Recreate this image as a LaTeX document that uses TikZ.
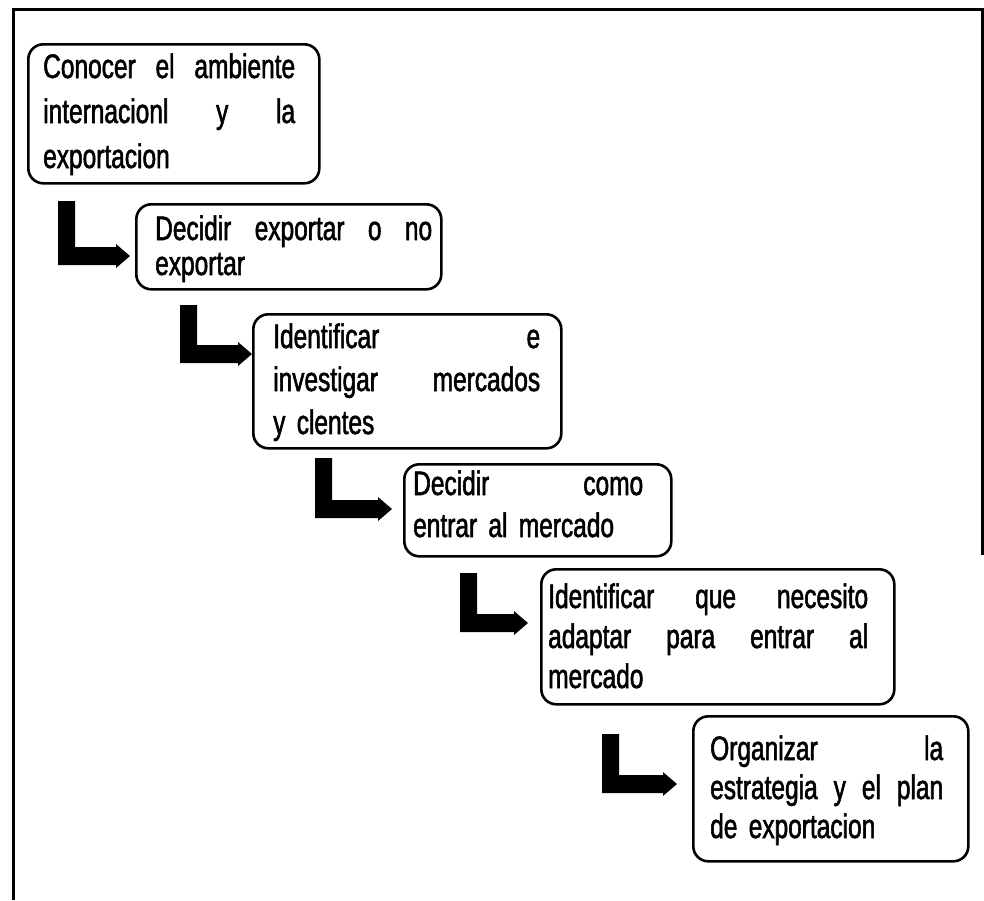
\documentclass[tikz,border=0pt]{standalone}
\usepackage{fontspec}
\setmainfont[FakeStretch=0.72,FakeBold=1.6,WordSpace=1.7]{Liberation Sans}
% a line spread over the whole text width
\newcommand\jline[1]{\leavevmode\hbox to \linewidth{#1}}
\begin{document}
\begin{tikzpicture}[x=1pt,y=-1pt,
  stepbox/.style={draw,line width=2.6pt,rounded corners=15pt,anchor=north west,
    inner sep=0pt,minimum width=#1},
  steptext/.style={anchor=base west,inner sep=0pt,align=left,text width=#1},
  frameline/.style={line width=3pt},
  blockarrow/.style={fill=black}]
\useasboundingbox (0,0) rectangle (984,900);

% open frame around the flow
\draw[frameline] (13,900) -- (13,9) -- (982,9) -- (982,555);

% L-shaped block arrow: bar left x, bar top y, shaft top y, tip x
\newcommand\larrow[4]{%
  \fill[blockarrow] (#1,#2) -- ({#1+17},#2) -- ({#1+17},#3) -- ({#4-14},#3)
    -- ({#4-14},{#3-3}) -- (#4,{#3+9}) -- ({#4-14},{#3+21}) -- ({#4-14},{#3+18})
    -- (#1,{#3+18}) -- cycle;}

% step boxes
\node[stepbox=291pt,minimum height=139pt] (b1) at (27,43) {};
\node[stepbox=305pt,minimum height=85pt]  (b2) at (135,203) {};
\node[stepbox=308pt,minimum height=134pt] (b3) at (252,313) {};
\node[stepbox=267pt,minimum height=92pt]  (b4) at (403,463) {};
\node[stepbox=353pt,minimum height=135pt] (b5) at (540,568) {};
\node[stepbox=275pt,minimum height=145pt] (b6) at (692,715) {};

% step texts
\node[steptext=252pt,font=\fontsize{34}{45}\selectfont] (t1) at (43,78)
  {\jline{Conocer\hfill el\hfill ambiente}\\\jline{internacionl\hfill y\hfill la}\\exportacion};
\node[steptext=277pt,font=\fontsize{34}{35}\selectfont] (t2) at (155,240)
  {\jline{Decidir\hfill exportar\hfill o\hfill no}\\exportar};
\node[steptext=267pt,font=\fontsize{34}{43}\selectfont] (t3) at (273,348)
  {\jline{Identificar\hfill e}\\\jline{investigar\hfill mercados}\\y clentes};
\node[steptext=230pt,font=\fontsize{34}{42}\selectfont] (t4) at (413,495)
  {\jline{Decidir\hfill como}\\entrar al mercado};
\node[steptext=320pt,font=\fontsize{34}{40}\selectfont] (t5) at (548,608)
  {\jline{Identificar\hfill que\hfill necesito}\\\jline{adaptar\hfill para\hfill entrar\hfill al}\\mercado};
\node[steptext=233pt,font=\fontsize{34}{39}\selectfont] (t6) at (710,760)
  {\jline{Organizar\hfill la}\\\jline{estrategia\hfill y\hfill el\hfill plan}\\de exportacion};

% arrows leading from one step to the next
\larrow{58}{201}{247}{130}
\larrow{180}{305}{345}{252}
\larrow{315}{458}{500}{392}
\larrow{460}{573}{614}{528}
\larrow{602}{734}{775}{677}
\end{tikzpicture}
\end{document}
